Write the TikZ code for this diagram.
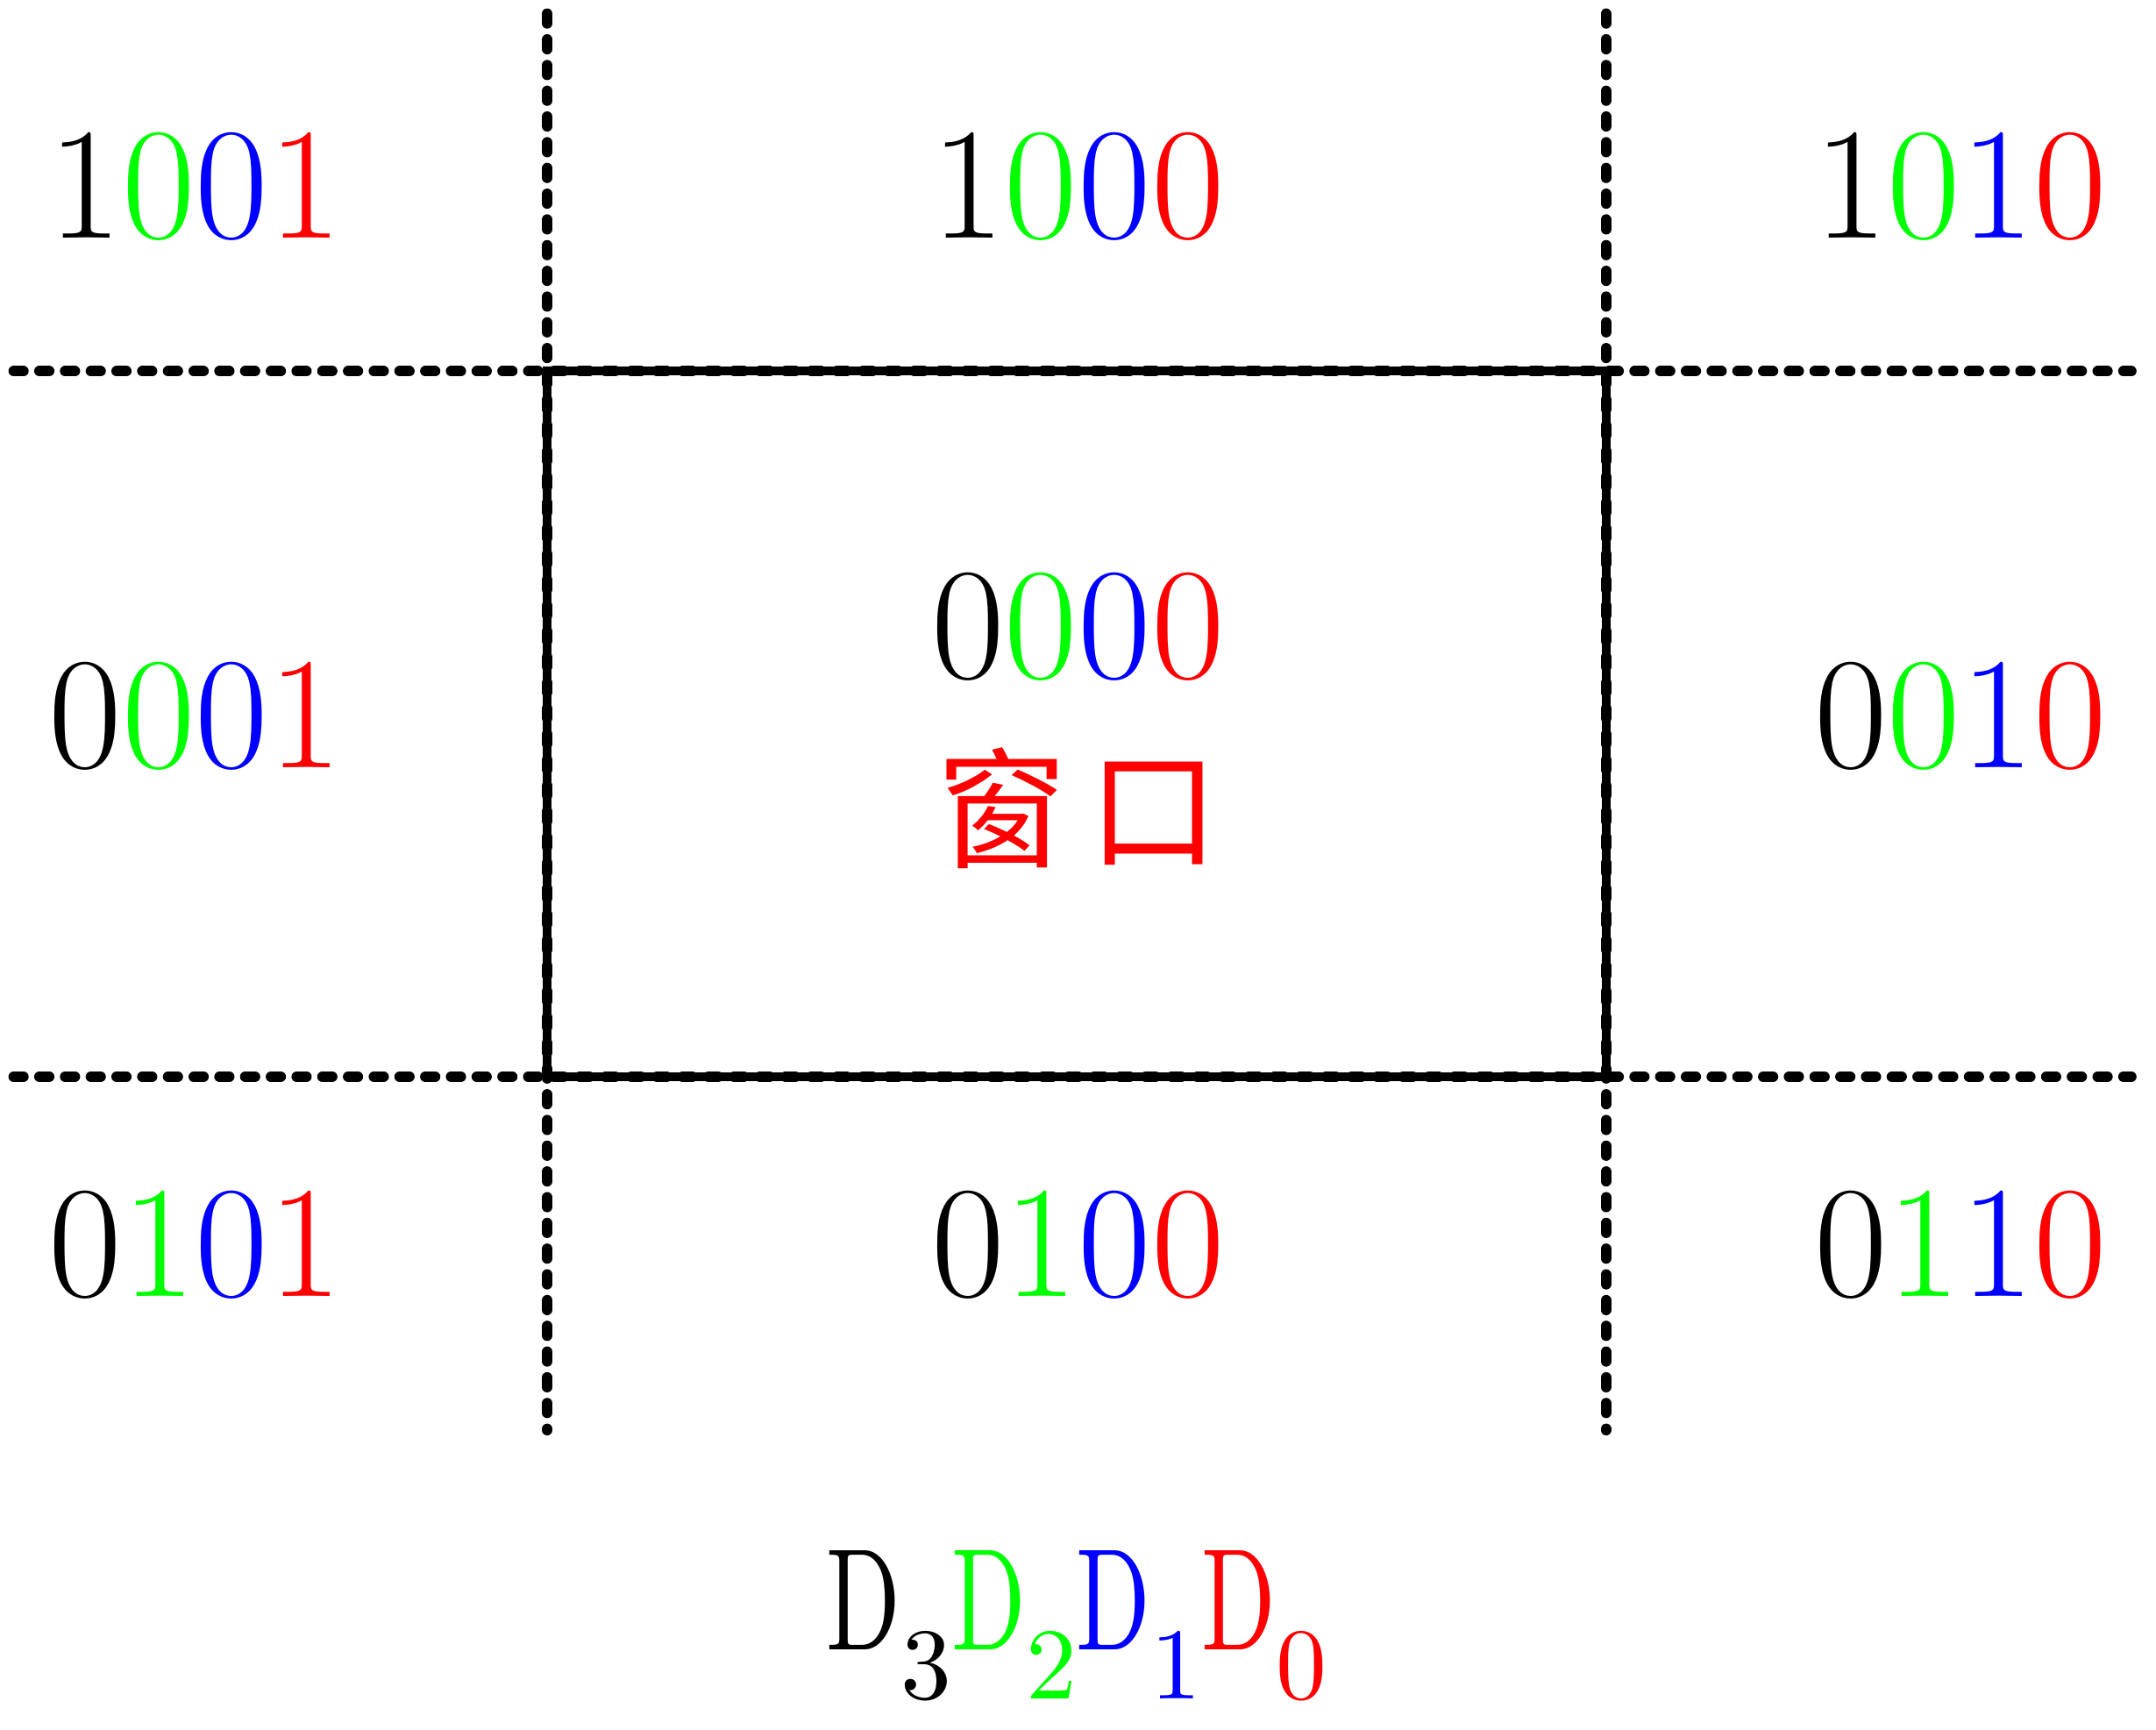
\documentclass[tikz,border=0pt]{standalone}
\usepackage{fontspec}
\usepackage{xcolor}
\usepackage{tikz}
\newfontfamily\lmten{lmroman10-regular.otf}
\newfontfamily\cjk{Noto Sans CJK SC}
\newcommand{\regcode}[4]{#1\textcolor{green}{#2}\textcolor{blue}{#3}\textcolor{red}{#4}}
\newcommand{\dbit}[2]{\textcolor{#1}{\scalebox{0.67}[1]{D}\raisebox{-10pt}{\fontsize{21}{25}\selectfont #2}}}

\begin{document}
\begin{tikzpicture}[
    x=0.01cm, y=-0.01cm,
    grid/.style={line width=2.2pt, line cap=round, dash pattern=on 0.07cm off 0.117cm},
    win/.style={line width=1.8pt},
    bits/.style={anchor=base, inner sep=0pt, font=\fontsize{33}{40}\selectfont}
]
\useasboundingbox (0,0) rectangle (1568,1258);
% grid line ends
\coordinate (h1w) at (10,270);
\coordinate (h1e) at (1550,270);
\coordinate (h2w) at (10,783);
\coordinate (h2e) at (1550,783);
\coordinate (v1n) at (398,10);
\coordinate (v1s) at (398,1040);
\coordinate (v2n) at (1168,10);
\coordinate (v2s) at (1168,1040);
% window corners
\coordinate (nw) at (398,270);
\coordinate (se) at (1168,783);
\draw[grid] (h1w) -- (h1e);
\draw[grid] (h2w) -- (h2e);
\draw[grid] (v1n) -- (v1s);
\draw[grid] (v2n) -- (v2s);
\draw[win] (nw) rectangle (se);
% region codes
\node[bits] (c1001) at (142,173) {\regcode1001};
\node[bits] (c1000) at (784,173) {\regcode1000};
\node[bits] (c1010) at (1426,173) {\regcode1010};
\node[bits] (c0001) at (142,558) {\regcode0001};
\node[bits] (c0000) at (784,493) {\regcode0000};
\node[bits] (c0010) at (1426,558) {\regcode0010};
\node[bits] (c0101) at (142,943) {\regcode0101};
\node[bits] (c0100) at (784,943) {\regcode0100};
\node[bits] (c0110) at (1426,943) {\regcode0110};
\node[anchor=base, inner sep=0pt, text=red, font=\cjk\fontsize{27}{32}\selectfont] (win) at (784,624) {窗\hspace{0.15cm}口};
\node[anchor=base, inner sep=0pt, font=\lmten\fontsize{30}{36}\selectfont] (bitorder) at (783,1200) {\dbit{black}{3}\dbit{green}{2}\dbit{blue}{1}\dbit{red}{0}};
\end{tikzpicture}
\end{document}
